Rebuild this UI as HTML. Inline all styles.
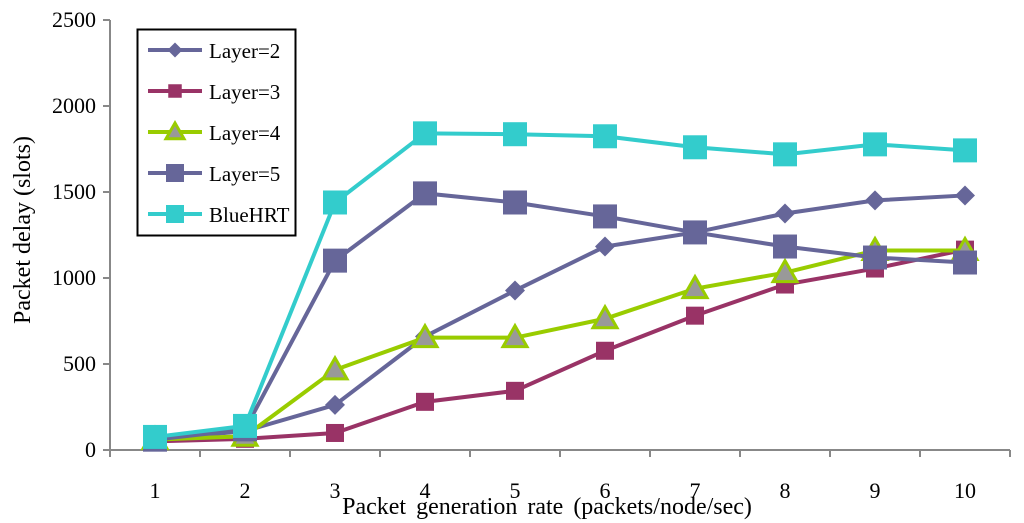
<!DOCTYPE html>
<html><head><meta charset="utf-8"><style>
html,body{margin:0;padding:0;background:#fff;}
svg{display:block;font-family:"Liberation Serif",serif;}
</style></head><body>
<svg id="chart" width="1024" height="523">
<g id="axes"></g>
<g id="series"></g>
<text x="547" y="514" font-size="24" text-anchor="middle" word-spacing="4">Packet generation rate (packets/node/sec)</text>
<text transform="translate(30,230) rotate(-90)" font-size="24" text-anchor="middle">Packet delay (slots)</text>
<g id="legend">
<rect x="137.5" y="29.5" width="158" height="206" fill="#fff" stroke="#000" stroke-width="2"></rect>
</g>
</svg>
<script>
const categories=[1,2,3,4,5,6,7,8,9,10];
const yTicks=[0,500,1000,1500,2000,2500];
const layer2=[60,110,262,660,927,1183,1265,1375,1451,1480];
const layer3=[50,65,99,280,344,577,781,962,1055,1165];
const layer4=[60,80,466,653,653,763,938,1031,1160,1160];
const layer5=[60,120,1101,1492,1439,1358,1265,1183,1119,1090];
const bluehrt=[76,140,1439,1841,1836,1824,1760,1719,1777,1742];
const seriesNames=["Layer=2","Layer=3","Layer=4","Layer=5","BlueHRT"];
const NS="http://www.w3.org/2000/svg";
const x0=110,step=90,yBase=450,yTop=20,yMax=2500;
const xs=i=>x0+step*(i+0.5);
const ys=v=>yBase-(v/yMax)*(yBase-yTop);
function mk(tag,attrs,parent){const e=document.createElementNS(NS,tag);for(const k in attrs)e.setAttribute(k,attrs[k]);parent.appendChild(e);return e;}
const axes=document.getElementById('axes');
let e=mk('line',{x1:x0,y1:yTop,x2:x0,y2:yBase,stroke:'#888','stroke-width':2},axes);


e=mk('line',{x1:x0-7,y1:yBase,x2:x0+step*categories.length,y2:yBase,stroke:'#888','stroke-width':2},axes);


yTicks.forEach(v=>{
  const t=mk('line',{x1:x0-7,y1:ys(v),x2:x0,y2:ys(v),stroke:'#888','stroke-width':2},axes);
  
  
  const l=mk('text',{x:x0-14,y:ys(v)+7,'font-size':22,'text-anchor':'end'},axes);
  l.textContent=v;
  
  
});
for(let i=0;i<=categories.length;i++){
  const t=mk('line',{x1:x0+step*i,y1:yBase,x2:x0+step*i,y2:yBase+7,stroke:'#888','stroke-width':2},axes);
  
  
}
categories.forEach((c,i)=>{
  const l=mk('text',{x:xs(i),y:yBase+48,'font-size':22,'text-anchor':'middle'},axes);
  l.textContent=c;
  
  
});
const styles=[
 {data:layer2,color:'#666699',m:'diamond',s:10},
 {data:layer3,color:'#993366',m:'square',s:9},
 {data:layer4,color:'#99cc00',m:'triangle',s:12},
 {data:layer5,color:'#666699',m:'square',s:12},
 {data:bluehrt,color:'#33cccc',m:'square',s:12}
];
function marker(g,st,cx,cy,scale){
  const s=st.s*scale;let m;
  if(st.m==='square')m=mk('rect',{x:cx-s,y:cy-s,width:2*s,height:2*s,fill:st.color},g);
  else if(st.m==='diamond')m=mk('polygon',{points:`${cx},${cy-s} ${cx+s},${cy} ${cx},${cy+s} ${cx-s},${cy}`,fill:st.color},g);
  else m=mk('polygon',{points:`${cx},${cy-s} ${cx+s},${cy+s*0.75} ${cx-s},${cy+s*0.75}`,fill:'#999','stroke':st.color,'stroke-width':3},g);
  return m;
}
const sg=document.getElementById('series');
styles.forEach((st,k)=>{
  const g=mk('g',{},sg);
  
  
  const pl=mk('polyline',{points:st.data.map((v,i)=>xs(i)+','+ys(v)).join(' '),fill:'none',stroke:st.color,'stroke-width':4},g);
  
  
  st.data.forEach((v,i)=>{
    const m=marker(g,st,xs(i),ys(v),1);
    
    
  });
});
const lg=document.getElementById('legend');
seriesNames.forEach((n,k)=>{
  const st=styles[k];const cy=50+k*41;
  const g=mk('g',{},lg);
  
  
  mk('line',{x1:148,y1:cy,x2:202,y2:cy,stroke:st.color,'stroke-width':4},g);
  marker(g,st,175,cy,0.75);
  const t=mk('text',{x:209,y:cy+8,'font-size':21},g);
  t.textContent=n;
});
</script>
</body></html>
